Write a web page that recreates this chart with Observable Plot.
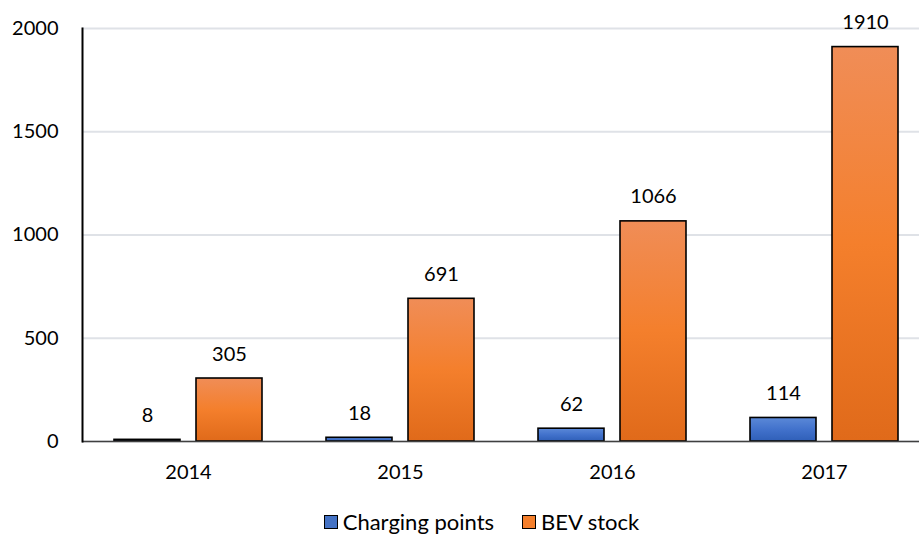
<!DOCTYPE html>
<html>
<head>
<meta charset="utf-8">
<script src="https://cdn.jsdelivr.net/npm/d3@7"></script>
<script src="https://cdn.jsdelivr.net/npm/@observablehq/plot@0.6"></script>
<style>
  html, body { margin: 0; padding: 0; background: #fff; overflow: hidden; }
  #chart { width: 919px; height: 537px; position: relative; font-family: Lato, "Open Sans", sans-serif; }
  .legend { position: absolute; left: 22px; top: 509px; width: 919px; display: flex; justify-content: center; gap: 28px; font-size: 22px; color: #000; line-height: 26px; }
  .legend span.item { display: inline-flex; align-items: center; }
  .legend span.sw { display: inline-block; width: 12px; height: 12px; border: 1.5px solid #000; margin-right: 5px; }
</style>
</head>
<body>
<div id="chart"></div>
<script>
const years = ["2014", "2015", "2016", "2017"];
const seriesNames = ["Charging points", "BEV stock"];
const chargingPoints = [8, 18, 62, 114];
const bevStock = [305, 691, 1066, 1910];
const yTicks = [0, 500, 1000, 1500, 2000];

const rows = [];
years.forEach((yr, i) => {
  rows.push({year: yr, series: seriesNames[0], value: chargingPoints[i]});
  rows.push({year: yr, series: seriesNames[1], value: bevStock[i]});
});

const font = "Lato, 'Open Sans', sans-serif";

const plot = Plot.plot({
  width: 919,
  height: 500,
  marginLeft: 82,
  marginRight: -11,
  marginTop: 28,
  marginBottom: 59,
  style: {fontFamily: font, fontSize: "20px", color: "#000", background: "transparent", overflow: "visible"},
  fx: {domain: years, padding: 0, label: null, axis: null},
  x: {domain: seriesNames, paddingInner: 0.195, paddingOuter: 0.39, axis: null},
  y: {domain: [0, 2000], label: null},
  marks: [
    Plot.gridY(yTicks, {stroke: "#dfe2e7", strokeWidth: 2, strokeOpacity: 1}),
    Plot.barY(rows.filter(d => d.series === seriesNames[0]), {fx: "year", x: "series", y: "value", fill: "url(#gBlue)", stroke: "#000", strokeWidth: 1.6}),
    Plot.barY(rows.filter(d => d.series === seriesNames[1]), {fx: "year", x: "series", y: "value", fill: "url(#gOrange)", stroke: "#000", strokeWidth: 1.6}),
    Plot.ruleY([0], {stroke: "#404040", strokeWidth: 1.5}),
    Plot.text(rows, {fx: "year", x: "series", y: "value", text: d => String(d.value), lineAnchor: "bottom", dy: -18, fontSize: 20, fill: "#000"}),
    Plot.axisY({ticks: yTicks, tickSize: 0, tickPadding: 24, tickFormat: d => String(d), label: null, fontSize: 20}),
    Plot.frame({anchor: "left", facetAnchor: "left", stroke: "#000", strokeWidth: 2}),
    Plot.axisFx({anchor: "bottom", tickSize: 0, tickPadding: 23, label: null, fontSize: 20})
  ]
});

const svg = d3.select(plot);
const defs = svg.insert("defs", ":first-child");
const gb = defs.append("linearGradient").attr("id", "gBlue").attr("x1", 0).attr("y1", 0).attr("x2", 0).attr("y2", 1);
gb.append("stop").attr("offset", "0%").attr("stop-color", "#5b89d8");
gb.append("stop").attr("offset", "50%").attr("stop-color", "#4272cc");
gb.append("stop").attr("offset", "100%").attr("stop-color", "#2f5fb8");
const go = defs.append("linearGradient").attr("id", "gOrange").attr("x1", 0).attr("y1", 0).attr("x2", 0).attr("y2", 1);
go.append("stop").attr("offset", "0%").attr("stop-color", "#f08d57");
go.append("stop").attr("offset", "50%").attr("stop-color", "#f47f2c");
go.append("stop").attr("offset", "100%").attr("stop-color", "#e06a1a");

const chart = document.getElementById("chart");
chart.appendChild(plot);

const legend = document.createElement("div");
legend.className = "legend";
const legendColors = ["#4472c4", "#f47f2c"];
seriesNames.forEach((name, i) => {
  const item = document.createElement("span");
  item.className = "item";
  const sw = document.createElement("span");
  sw.className = "sw";
  sw.style.background = legendColors[i];
  item.appendChild(sw);
  item.appendChild(document.createTextNode(name));
  legend.appendChild(item);
});
chart.appendChild(legend);
</script>
</body>
</html>
